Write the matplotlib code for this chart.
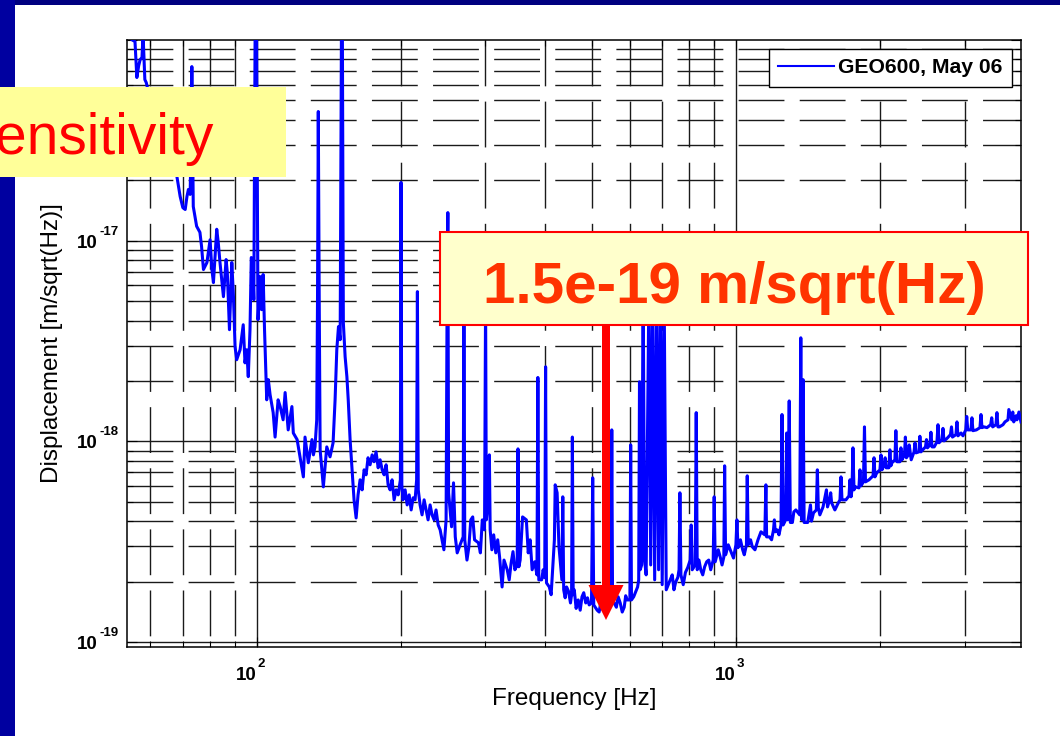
import numpy as np
import matplotlib
matplotlib.use('Agg')
import matplotlib.pyplot as plt
from matplotlib.patches import Rectangle, FancyArrow
from matplotlib.transforms import offset_copy, IdentityTransform
from matplotlib import font_manager

plt.rcParams['font.family'] = ['Liberation Sans', 'DejaVu Sans']

# GEO600 displacement spectrum, May 06
# displacement values are in units of 1e-19 m/sqrt(Hz)

# 54 - 150 Hz
freq_low = [53.9, 54.8, 55.7, 56.2, 56.7, 57.1, 57.6, 57.9, 58.4, 58.8,
            61.3, 64.3, 68.1, 69.2, 70.1, 70.9, 71.5, 72.0, 72.6, 72.9,
            73.2, 73.5, 73.7, 74.9, 76.1, 76.7, 77.4, 78.7, 79.9, 80.6,
            81.2, 82.5, 83.1, 83.8, 84.5, 85.2, 86.3, 86.8, 87.7, 88.7,
            89.4, 90.1, 90.8, 92.3, 93.7, 94.5, 95.3, 96.0, 96.8, 97.4,
            98.0, 98.6, 99.2, 99.9, 100.6, 101.6, 102.3, 103.1, 103.8, 104.9,
            105.7, 106.6, 108.2, 109.2, 110.8, 111.9, 113.5, 114.6, 116.3, 118.4,
            119.2, 121.4, 123.1, 125.1, 126.1, 128.1, 130.4, 131.3, 132.3, 133.4,
            133.9, 134.4, 135.0, 135.6, 137.7, 140.0, 142.2, 144.3, 145.7, 146.9,
            148.1, 149.3, 150.2, 150.9]
disp_low = [1127, 1005, 982, 650, 746, 799, 818, 1064, 635, 613,
            401, 285, 210, 166, 146, 143, 166, 180, 170, 285,
            737, 285, 148, 118, 110, 93.5, 71.8, 77.8, 101, 71.8,
            61.8, 114, 97.9, 77.8, 64.0, 52.6, 80.5, 69.4, 36.0, 77.8,
            52.6, 29.6, 25.5, 28.6, 38.1, 24.6, 28.6, 21.0, 36.0, 82.4,
            78.7, 50.8, 1064, 1064, 40.4, 66.2, 45.3, 67.8, 36.0, 16.1,
            20.3, 17.1, 13.9, 10.5, 16.1, 14.9, 12.8, 17.5, 11.4, 14.9,
            11.0, 10.2, 8.37, 6.65, 10.5, 7.82, 10.2, 8.56, 9.38, 12.8,
            50.8, 440, 50.8, 9.07, 5.93, 9.38, 8.37, 9.83, 16.1, 28.6,
            37.3, 32.1, 1064, 1064]

# 150 - 445 Hz
freq_mid = [151.6, 152.9, 154.2, 155.2, 156.6, 158.1, 159.6, 161.2, 162.7, 164.3,
            165.9, 167.5, 169.1, 170.7, 172.4, 174.1, 175.7, 177.4, 179.2, 180.9,
            182.7, 184.4, 186.2, 188.0, 189.8, 191.6, 193.5, 195.4, 197.3, 199.4,
            200.0, 200.8, 201.9, 204.0, 206.0, 208.0, 210.0, 212.0, 214.0, 215.6,
            216.4, 217.3, 219.2, 221.3, 223.5, 225.7, 227.8, 230.0, 232.2, 234.5,
            236.7, 239.1, 241.4, 245.8, 248.4, 249.6, 250.5, 251.4, 255.0, 257.4,
            259.6, 262.0, 265.7, 269.6, 270.6, 271.7, 274.6, 277.0, 279.7, 282.3,
            284.8, 290.2, 292.9, 295.6, 298.8, 300.3, 301.4, 304.2, 305.8, 307.0,
            309.5, 312.2, 315.4, 318.3, 321.2, 325.1, 328.1, 333.2, 336.4, 339.5,
            342.6, 345.7, 349.5, 350.9, 352.3, 354.6, 358.7, 365.3, 368.6, 372.0,
            375.6, 380.2, 384.4, 386.1, 387.8, 393.2, 396.0, 399.0, 400.7, 402.4,
            407.9, 411.5, 415.6, 418.0, 419.6, 423.5, 427.3, 433.3, 435.2, 437.1,
            440.2, 443.2]
disp_mid = [39.0, 26.4, 21.0, 16.1, 10.2, 7.21, 5.11, 4.15, 5.41, 6.43,
            5.73, 7.21, 6.81, 8.28, 7.64, 8.56, 7.91, 8.86, 7.38, 8.09,
            7.21, 6.81, 7.64, 6.07, 5.73, 6.43, 5.11, 5.73, 5.41, 6.43,
            195, 6.07, 5.11, 5.73, 4.82, 5.41, 4.55, 5.23, 5.11, 6.43,
            55.7, 5.73, 4.82, 4.30, 5.11, 4.55, 4.06, 4.82, 4.30, 4.06,
            4.55, 3.83, 3.62, 2.88, 4.06, 50.8, 138, 5.54, 3.75, 6.21,
            3.34, 2.78, 3.05, 3.34, 57.0, 3.23, 2.56, 2.95, 4.06, 4.20,
            3.23, 3.12, 2.78, 4.06, 3.62, 50.8, 4.06, 5.11, 8.56, 3.62,
            2.88, 3.42, 2.78, 3.23, 2.65, 1.88, 2.56, 2.29, 2.04, 2.47,
            2.82, 2.29, 2.42, 9.17, 2.37, 2.56, 4.20, 4.06, 2.78, 3.23,
            2.29, 2.51, 2.16, 20.8, 2.04, 2.04, 2.29, 2.09, 23.5, 1.97,
            1.88, 1.72, 2.56, 3.23, 6.07, 5.54, 2.98, 2.04, 5.29, 1.82,
            1.66, 1.88]

# 445 Hz - 1 kHz (bucket and violin mode lines)
freq_bucket = [447.3, 451.6, 454.0, 455.7, 457.5, 459.9, 464.0, 468.7, 473.2, 477.3,
               481.3, 486.0, 490.0, 494.1, 499.6, 502.5, 505.0, 513.4, 518.3, 523.3,
               528.3, 533.6, 537.5, 541.4, 548.6, 550.7, 552.8, 563.0, 567.8, 573.5,
               579.1, 584.6, 588.8, 593.1, 600.8, 603.1, 605.4, 611.9, 623.5, 626.8,
               629.2, 631.2, 635.8, 640.3, 644.9, 649.6, 658.6, 664.0, 670.7, 676.8,
               683.4, 689.7, 696.0, 701.7, 708.5, 715.5, 722.4, 729.3, 736.4, 742.5,
               748.8, 756.6, 760.9, 764.0, 767.8, 776.4, 784.6, 793.4, 802.8, 806.7,
               810.6, 822.4, 826.4, 830.4, 837.4, 844.5, 852.7, 860.5, 869.0, 877.6,
               886.0, 896.6, 900.9, 905.3, 918.6, 927.5, 935.6, 943.6, 947.3, 951.6,
               963.9, 978.9, 988.5]
disp_bucket = [1.79, 1.565, 1.72, 10.5, 1.72, 1.82, 1.47, 1.62, 1.44, 1.68,
               1.76, 1.565, 1.66, 1.53, 1.565, 6.58, 1.53, 1.44, 1.41, 1.62,
               1.44, 1.53, 1.72, 1.62, 1.53, 11.4, 1.62, 1.49, 1.68, 1.565,
               1.41, 1.49, 1.70, 1.62, 1.62, 9.60, 1.62, 1.68, 1.88, 2.04,
               19.8, 2.29, 2.42, 64.0, 2.56, 2.16, 64.0, 2.42, 57.0, 2.04,
               50.8, 2.29, 64.0, 1.93, 50.8, 1.82, 1.93, 2.04, 2.16, 1.82,
               1.99, 2.10, 2.29, 5.54, 2.16, 1.93, 2.22, 2.35, 2.56, 3.83,
               2.29, 2.42, 13.9, 2.29, 2.56, 2.29, 2.16, 2.37, 2.51, 2.56,
               2.29, 2.56, 5.29, 2.51, 2.88, 2.65, 2.42, 2.65, 7.55, 2.72,
               3.05, 2.78, 2.62]

# 1 kHz - 4 kHz
freq_high = [1000, 1005, 1010, 1022, 1033, 1041, 1052, 1056, 1061, 1073,
             1082, 1096, 1112, 1128, 1149, 1155, 1159, 1175, 1187, 1198,
             1203, 1208, 1219, 1230, 1242, 1248, 1255, 1270, 1276, 1283,
             1292, 1299, 1312, 1321, 1334, 1359, 1366, 1372, 1381, 1388,
             1412, 1431, 1438, 1452, 1472, 1479, 1486, 1497, 1520, 1545,
             1553, 1569, 1577, 1584, 1609, 1636, 1649, 1657, 1665, 1697,
             1722, 1730, 1739, 1747, 1755, 1764, 1777, 1806, 1815, 1823,
             1846, 1855, 1864, 1896, 1933, 1942, 1951, 1968, 1998, 2008,
             2018, 2039, 2049, 2059, 2086, 2096, 2106, 2117, 2147, 2157,
             2168, 2200, 2210, 2221, 2248, 2258, 2269, 2291, 2300, 2322,
             2354, 2365, 2376, 2410, 2421, 2433, 2454, 2487, 2499, 2511,
             2541, 2553, 2566, 2593, 2628, 2641, 2654, 2692, 2705, 2718,
             2740, 2764, 2804, 2818, 2831, 2879, 2893, 2907, 2951, 2978,
             3018, 3032, 3047, 3094, 3109, 3124, 3176, 3231, 3247, 3263,
             3296, 3342, 3402, 3419, 3435, 3489, 3506, 3523, 3547, 3609,
             3644, 3697, 3712, 3765, 3783, 3801, 3842, 3860, 3897, 3935]
disp_high = [3.05, 4.06, 2.95, 3.23, 2.88, 2.72, 3.05, 6.73, 3.05, 3.23,
             2.98, 2.88, 3.23, 3.54, 3.42, 6.07, 3.34, 3.34, 3.23, 3.62,
             4.06, 3.54, 3.62, 3.42, 3.83, 13.6, 3.83, 4.06, 11.0, 4.06,
             15.9, 3.94, 3.94, 4.45, 4.55, 4.30, 32.8, 4.06, 20.3, 3.94,
             3.94, 4.82, 4.00, 4.40, 4.55, 7.21, 4.66, 4.30, 4.71, 5.73,
             4.71, 5.11, 5.54, 4.94, 4.55, 4.94, 5.11, 6.65, 5.11, 5.11,
             5.35, 6.43, 5.29, 5.73, 9.28, 5.73, 5.93, 5.86, 7.21, 6.00,
             6.28, 11.8, 6.28, 6.43, 6.73, 8.28, 6.65, 6.97, 7.21, 8.56,
             7.21, 7.64, 8.28, 7.38, 7.38, 9.07, 7.55, 7.82, 8.09, 11.3,
             7.91, 7.91, 9.28, 8.09, 8.56, 10.5, 8.28, 8.56, 9.60, 8.09,
             8.86, 9.83, 8.76, 8.86, 10.6, 8.86, 9.07, 9.38, 10.2, 9.28,
             9.60, 11.1, 9.38, 9.38, 9.94, 12.1, 9.83, 10.2, 11.6, 10.05,
             10.2, 10.4, 10.8, 11.8, 10.5, 10.8, 12.5, 10.65, 11.0, 10.65,
             11.4, 13.3, 11.4, 11.4, 13.1, 11.3, 11.4, 11.7, 13.6, 11.7,
             11.8, 11.7, 12.1, 13.1, 11.8, 12.1, 13.9, 11.8, 11.8, 12.1,
             12.5, 12.8, 14.4, 12.8, 14.0, 12.5, 13.4, 12.8, 14.0, 12.5]

x_decades = [1e2, 1e3]
y_decades = [1e-19, 1e-18, 1e-17]

freq = np.array(freq_low + freq_mid + freq_bucket + freq_high)
disp = np.array(disp_low + disp_mid + disp_bucket + disp_high) * 1e-19

W, H = 1060, 736
fig = plt.figure(figsize=(W / 100, H / 100), dpi=100)
fig.patch.set_facecolor('white')

# slide border (dark blue bands top and left)
fig.add_artist(Rectangle((0, 1 - 5 / H), 1, 5 / H, transform=fig.transFigure,
                         facecolor='#000080', edgecolor='none', zorder=0))
fig.add_artist(Rectangle((0, 0), 15 / W, 1, transform=fig.transFigure,
                         facecolor='#0000a0', edgecolor='none', zorder=0))

ax = fig.add_axes([127 / W, 89 / H, 893.7 / W, 607 / H])
ax.set_xscale('log')
ax.set_yscale('log')
ax.set_xlim(53.6, 3930)
ax.set_ylim(9.44e-20, 1e-16)

# matlab style grid: dashed minor lines, solid decade lines
dash = (0, (33, 11))
gcol = '#1a1a1a'
x_minor = [k * d for d in [10, 100, 1000] for k in range(2, 10)]
y_minor = [k * d for d in [1e-20, 1e-19, 1e-18, 1e-17] for k in range(2, 10)]
for y in y_minor:
    ax.axhline(y, color=gcol, lw=1.0, ls=dash, zorder=1)
for y in y_decades:
    ax.axhline(y, color=gcol, lw=1.0, zorder=1)
for x in x_minor:
    ax.axvline(x, 1, 0, color=gcol, lw=1.0, ls=dash, zorder=1)
for x in x_decades:
    ax.axvline(x, 1, 0, color=gcol, lw=1.0, zorder=1)

ax.plot(freq, disp, color='#0000ff', lw=2.2, zorder=3, label='GEO600, May 06')

ax.tick_params(which='both', direction='in', top=True, right=True,
               labelbottom=False, labelleft=False, width=0.8)
ax.tick_params(which='major', length=7)
ax.tick_params(which='minor', length=4)
for s in ax.spines.values():
    s.set_linewidth(1.1)

# tick labels as 10 with raised exponent
for xv in x_decades:
    t1 = offset_copy(ax.get_xaxis_transform(), fig=fig, x=0, y=-33, units='dots')
    t2 = offset_copy(ax.get_xaxis_transform(), fig=fig, x=1, y=-20, units='dots')
    ax.text(xv, 0, '10', transform=t1, ha='right', va='baseline', fontsize=13.5, fontweight='bold')
    ax.text(xv, 0, '%d' % round(np.log10(xv)), transform=t2, ha='left', va='baseline',
            fontsize=9.5, fontweight='bold')
for yv in y_decades:
    t1 = offset_copy(ax.get_yaxis_transform(), fig=fig, x=-29, y=-7, units='dots')
    t2 = offset_copy(ax.get_yaxis_transform(), fig=fig, x=-28, y=6, units='dots')
    ax.text(0, yv, '10', transform=t1, ha='right', va='baseline', fontsize=13.5, fontweight='bold')
    ax.text(0, yv, '%d' % round(np.log10(yv)), transform=t2, ha='left', va='baseline',
            fontsize=9.5, fontweight='bold')

ax.set_xlabel('Frequency [Hz]', fontsize=17.5)
ax.xaxis.set_label_coords(0.5, -(688 - 647) / 607)
ax.set_ylabel('Displacement [m/sqrt(Hz)]', fontsize=17.5)
ax.yaxis.set_label_coords((63 - 127) / 893.7, 0.5)

leg = ax.legend(loc='upper right', bbox_to_anchor=(0.9906, 0.9852), borderaxespad=0,
                prop=dict(weight='bold', size=15.2), handlelength=2.65, handletextpad=0.19,
                borderpad=0.45, fancybox=False, framealpha=1, edgecolor='black')
leg.get_frame().set_linewidth(1.0)
leg.get_lines()[0].set_linewidth(1.5)

# "Sensitivity" title box, cut off at the left edge of the slide
names = set(f.name for f in font_manager.fontManager.ttflist)
if 'Liberation Sans Narrow' in names:
    sfam, ssize = 'Liberation Sans Narrow', 48
else:
    sfam, ssize = 'Liberation Sans', 41
fig.add_artist(Rectangle((0, (H - 177) / H), 286 / W, 90 / H, transform=fig.transFigure,
                         facecolor='#ffff99', edgecolor='none', zorder=5))
fig.text(214 / W, (H - 154) / H, 'Sensitivity', ha='right', va='baseline', fontsize=ssize,
         family=sfam, color='#ff0000', zorder=6)

# annotation box with arrow
fig.add_artist(Rectangle((440 / W, (H - 325) / H), 588 / W, 93 / H, transform=fig.transFigure,
                         facecolor='#ffffcc', edgecolor='#ff0000', lw=1.5, zorder=5))
fig.text(734 / W, (H - 303) / H, '1.5e-19 m/sqrt(Hz)', ha='center', va='baseline',
         fontsize=42, fontweight='bold', color='#ff3300', zorder=6)
fig.add_artist(FancyArrow(606, H - 324, 0, -(620 - 324), width=8, head_width=35,
                          head_length=35, length_includes_head=True,
                          transform=IdentityTransform(), color='#ff0000', lw=0, zorder=6))

fig.savefig('out.png', dpi=100)
